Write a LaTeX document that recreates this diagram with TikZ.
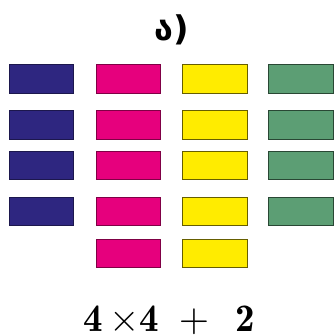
\documentclass[tikz,border=0pt]{standalone}
\usepackage{fontspec}
\newfontfamily\geofont{DejaVu Sans}
\definecolor{cblue}{RGB}{46,38,128}
\definecolor{cmag}{RGB}{230,0,125}
\definecolor{cyel}{RGB}{255,236,0}
\definecolor{cgreen}{RGB}{92,158,116}
\tikzset{
  bar/.style={rectangle, inner sep=0pt, minimum width=64.5pt, minimum height=28.5pt, line width=0.9pt},
  bbar/.style={bar, fill=cblue, draw=cblue!60!black},
  mbar/.style={bar, fill=cmag, draw=cmag!55!black},
  ybar/.style={bar, fill=cyel, draw=cyel!40!black},
  gbar/.style={bar, fill=cgreen, draw=cgreen!45!black},
}
\begin{document}
\begin{tikzpicture}[x=1pt,y=-1pt]
\useasboundingbox (0,0) rectangle (334,336);
\node (lbl) [anchor=base, inner sep=0pt] at (172,41) {\geofont\bfseries\fontsize{34}{34}\selectfont ა)};
\foreach \r/\y in {1/78.8,2/124.8,3/165.5,4/211.2}{
  \node[bbar] (b\r) at (41.5,\y) {};
  \node[mbar] (m\r) at (128.3,\y) {};
  \node[ybar] (y\r) at (215,\y) {};
  \node[gbar] (g\r) at (301,\y) {};
}
\node[mbar] (m5) at (128.3,253.3) {};
\node[ybar] (y5) at (215,253.3) {};
\node (expr) [anchor=base, inner sep=0pt] at (169,331) {\scalebox{3.9}{$\mathbf{4}\,{\times}\mathbf{4}\;+\;\,\mathbf{2}$}};
\end{tikzpicture}
\end{document}
